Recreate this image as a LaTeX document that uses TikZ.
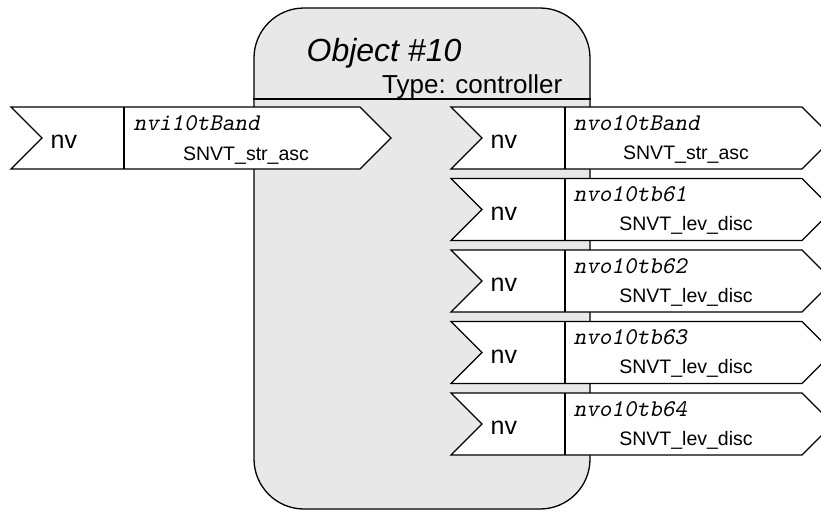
\documentclass[tikz,border=0pt]{standalone}
\usepackage{fontspec}
\setmainfont{Liberation Sans}
\newfontfamily\courierit[FakeSlant=0.2]{lmmono10-regular.otf}
\usetikzlibrary{positioning}
\definecolor{objgray}{RGB}{232,232,232}

\begin{document}
\begin{tikzpicture}[x=1pt, y=-1pt, line width=1.3pt,
  objbox/.style={draw, fill=objgray, rounded corners=50pt, inner sep=0pt},
  portbox/.style={draw, fill=white, line join=miter},
  nvlabel/.style={anchor=mid west, inner sep=0pt, font=\fontsize{25}{30}\selectfont},
  varlabel/.style={anchor=base west, inner sep=0pt, font=\courierit\fontsize{24}{28}\selectfont},
  typelabel/.style={anchor=base, inner sep=0pt, font=\fontsize{19.5}{24}\selectfont}]
\clip (0,0) rectangle (821,511);
\fill[white] (0,0) rectangle (821,511);

% object body
\node[objbox, minimum width=336pt, minimum height=501pt] (obj) at (422,258.5) {};
\draw (obj.west |- 0,99) -- (obj.east |- 0,99);
\node[anchor=base west, inner sep=0pt, font=\itshape\fontsize{32}{38}\selectfont] (title) at (306,62) {Object \#10};
\node[anchor=base east, inner sep=0pt, font=\fontsize{26}{31}\selectfont] (objtype) at (563,93) {Type: controller};

% input
\draw[portbox] (11,107) -- (360,107) -- (391,138) -- (360,169) -- (11,169) -- (42,138) -- cycle;
\draw (124,107) -- (124,169);
\node[nvlabel] (nvin) at (50,146) {nv};
\node[varlabel] (varin) at (133,130) {nvi10tBand};
\node[typelabel] (typein) at (246,160) {SNVT\_str\_asc};

% outputs
\draw[portbox] (451,107) -- (802,107) -- (833,138) -- (802,169) -- (451,169) -- (482,138) -- cycle;
\draw (565,107) -- (565,169);
\node[nvlabel] (nvout1) at (490,146) {nv};
\node[varlabel] (varout1) at (573,130) {nvo10tBand};
\node[typelabel] (typeout1) at (686,159) {SNVT\_str\_asc};

\draw[portbox] (451,178.5) -- (802,178.5) -- (833,209.5) -- (802,240.5) -- (451,240.5) -- (482,209.5) -- cycle;
\draw (565,178.5) -- (565,240.5);
\node[nvlabel] (nvout2) at (490,217.5) {nv};
\node[varlabel] (varout2) at (573,201.5) {nvo10tb61};
\node[typelabel] (typeout2) at (686,230.5) {SNVT\_lev\_disc};

\draw[portbox] (451,250) -- (802,250) -- (833,281) -- (802,312) -- (451,312) -- (482,281) -- cycle;
\draw (565,250) -- (565,312);
\node[nvlabel] (nvout3) at (490,289) {nv};
\node[varlabel] (varout3) at (573,273) {nvo10tb62};
\node[typelabel] (typeout3) at (686,302) {SNVT\_lev\_disc};

\draw[portbox] (451,321.5) -- (802,321.5) -- (833,352.5) -- (802,383.5) -- (451,383.5) -- (482,352.5) -- cycle;
\draw (565,321.5) -- (565,383.5);
\node[nvlabel] (nvout4) at (490,360.5) {nv};
\node[varlabel] (varout4) at (573,344.5) {nvo10tb63};
\node[typelabel] (typeout4) at (686,373.5) {SNVT\_lev\_disc};

\draw[portbox] (451,393) -- (802,393) -- (833,424) -- (802,455) -- (451,455) -- (482,424) -- cycle;
\draw (565,393) -- (565,455);
\node[nvlabel] (nvout5) at (490,432) {nv};
\node[varlabel] (varout5) at (573,416) {nvo10tb64};
\node[typelabel] (typeout5) at (686,445) {SNVT\_lev\_disc};
\end{tikzpicture}
\end{document}
